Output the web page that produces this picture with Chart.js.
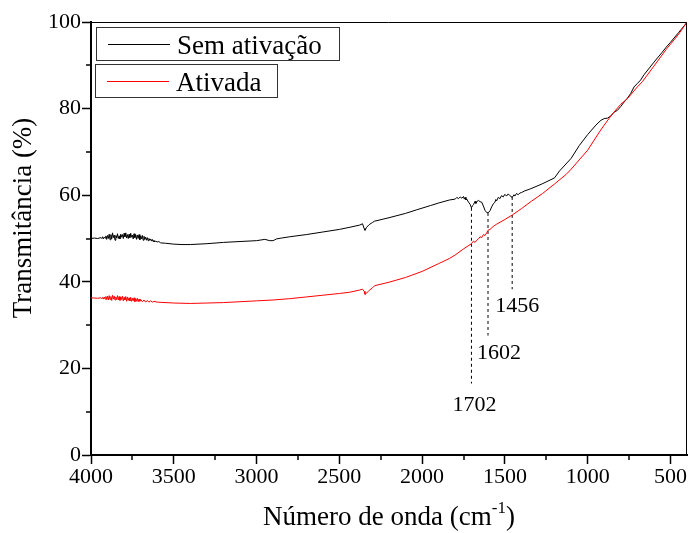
<!DOCTYPE html>
<html>
<head>
<meta charset="utf-8">
<script src="https://cdn.jsdelivr.net/npm/chart.js@4/dist/chart.umd.min.js"></script>
<style>
html,body{margin:0;padding:0;background:#fff;}
#wrap{width:689px;height:533px;position:relative;}
</style>
</head>
<body>
<div id="wrap"><canvas id="c" width="689" height="533"></canvas></div>
<script>
// ---- data ----
const seriesNames = ["Sem ativação", "Ativada"];
const semWn = [4000,3980,3960,3940,3935,3930,3925,3920,3915,3910,3905,3900,3895,3890,3885,3880,3875,3870,3865,3860,3855,3850,3845,3840,3835,3830,3825,3820,3815,3810,3805,3800,3795,3790,3785,3780,3775,3770,3765,3760,3755,3750,3745,3740,3735,3730,3725,3720,3715,3710,3705,3700,3695,3690,3685,3680,3675,3670,3665,3660,3655,3650,3645,3640,3635,3630,3625,3620,3615,3610,3600,3590,3580,3550,3500,3450,3400,3300,3200,3100,3000,2950,2920,2900,2880,2850,2800,2700,2600,2500,2436,2377,2360,2350,2345,2335,2320,2300,2287,2200,2100,2035,1950,1900,1834,1800,1790,1780,1770,1760,1750,1745,1740,1735,1730,1720,1710,1702,1695,1690,1680,1675,1670,1660,1650,1640,1630,1620,1610,1602,1590,1580,1570,1560,1555,1550,1540,1530,1520,1510,1500,1490,1480,1470,1456,1445,1440,1430,1420,1410,1400,1380,1350,1300,1270,1200,1170,1100,1050,1000,950,920,900,880,860,840,820,800,780,760,740,720,700,680,660,600,550,525,500,450,400];
const semT  = [50.0,50.1,50.0,50.2,50.0,50.4,49.9,50.3,50.1,50.6,49.8,50.7,50.0,51.0,49.7,50.9,49.9,51.3,50.2,50.8,49.6,50.7,50.1,51.1,50.0,50.6,49.9,51.0,50.3,50.9,50.0,51.2,50.4,51.3,50.1,50.9,50.0,51.0,50.2,51.2,50.3,50.8,49.9,51.1,50.2,50.9,49.8,50.8,50.0,50.9,49.7,50.6,49.9,50.7,49.6,50.5,49.8,50.3,49.6,50.2,49.5,50.0,49.6,49.9,49.4,49.8,49.3,49.6,49.2,49.4,49.2,49.3,49.0,48.9,48.7,48.6,48.6,48.8,49.1,49.3,49.5,49.8,49.5,49.5,49.9,50.1,50.4,50.9,51.5,52.1,52.6,53.1,53.4,52.3,51.9,52.6,53.2,53.7,54.0,54.8,55.8,56.6,57.6,58.2,58.9,59.1,59.5,59.2,59.6,59.3,59.7,59.1,59.5,58.9,59.1,58.4,57.9,57.1,57.6,57.8,58.6,58.1,58.5,58.8,58.5,58.4,57.5,56.5,56.0,55.9,56.4,57.3,58.0,58.4,59.0,58.7,59.5,59.2,59.9,59.6,60.2,59.8,60.3,59.9,59.5,60.1,59.8,60.4,60.1,60.5,60.6,61.0,61.4,62.2,62.7,64.0,65.6,68.5,71.5,74.0,76.2,77.3,77.7,77.8,78.3,79.2,79.6,80.5,81.5,82.4,83.5,85.0,85.8,86.6,87.8,90.7,93.0,94.2,95.3,97.6,99.9];
const ativWn = [4000,3960,3940,3935,3930,3925,3920,3915,3910,3905,3900,3895,3890,3885,3880,3875,3870,3865,3860,3855,3850,3845,3840,3835,3830,3825,3820,3815,3810,3805,3800,3795,3790,3785,3780,3775,3770,3765,3760,3755,3750,3745,3740,3735,3730,3725,3720,3715,3710,3705,3700,3690,3680,3670,3660,3650,3640,3630,3620,3600,3500,3400,3300,3200,3100,3000,2900,2800,2700,2600,2500,2436,2377,2360,2350,2345,2335,2320,2300,2287,2200,2100,2000,1900,1834,1800,1750,1702,1690,1680,1670,1660,1650,1640,1630,1620,1610,1602,1590,1570,1550,1500,1456,1400,1340,1272,1200,1130,1100,1000,929,900,850,800,760,700,670,600,525,450,400];
const ativT  = [36.3,36.2,36.3,36.1,36.4,36.0,36.5,36.0,36.6,35.9,36.7,35.8,36.8,35.9,36.6,35.7,36.9,36.0,36.7,35.8,36.5,35.9,36.8,35.8,36.6,35.7,36.5,35.9,36.7,35.6,36.4,35.8,36.6,35.5,36.5,35.7,36.3,35.6,36.4,35.5,36.2,35.6,36.3,35.4,36.1,35.5,36.2,35.4,36.0,35.5,35.9,35.4,35.8,35.3,35.7,35.3,35.6,35.3,35.5,35.3,35.1,35.0,35.1,35.2,35.4,35.6,35.8,36.1,36.5,36.9,37.3,37.6,38.1,38.3,37.8,37.1,37.4,38.0,38.6,39.1,39.9,41.0,42.4,44.2,45.4,46.2,47.6,48.8,49.4,49.1,49.6,49.9,50.4,50.2,50.9,50.7,51.3,51.9,52.1,52.8,53.3,54.4,55.4,56.9,58.6,60.4,62.6,64.8,66.0,70.4,74.6,76.2,78.8,81.0,82.3,85.0,86.2,89.8,93.7,97.2,100.0];
const xTickLabels = [4000,3500,3000,2500,2000,1500,1000,500];
const xMinorTicks = [3750,3250,2750,2250,1750,1250,750];
const yTickLabels = [0,20,40,60,80,100];
const yMinorTicks = [10,30,50,70,90];
const peakWn = [1702,1602,1456];
const peakTop = [57.1,55.9,59.6];
const peakBottom = [16.5,27.6,38.3];
const peakLabelWn = [1683,1535,1425];
const peakLabelT = [11.5,23.6,34.3];

const FONT = '"Liberation Serif","Times New Roman",serif';
const toXY = (xs, ys) => xs.map((x, i) => ({x: x, y: ys[i]}));

const datasets = [
  {label: seriesNames[0], data: toXY(semWn, semT), borderColor: '#000', borderWidth: 1, pointRadius: 0, tension: 0, order: 2},
  {label: seriesNames[1], data: toXY(ativWn, ativT), borderColor: '#ff0000', borderWidth: 1, pointRadius: 0, tension: 0, order: 1}
];
peakWn.forEach((w, i) => {
  datasets.push({label: 'peak' + w, data: [{x: w, y: peakTop[i]}, {x: w, y: peakBottom[i]}],
    borderColor: '#000', borderWidth: 1, borderDash: [3, 3], pointRadius: 0, order: 3});
});

const extras = {
  id: 'extras',
  afterDraw(chart) {
    const ctx = chart.ctx, ca = chart.chartArea;
    const xs = chart.scales.x, ys = chart.scales.y;
    ctx.save();
    // frame top & right
    ctx.strokeStyle = '#000'; ctx.lineWidth = 1;
    ctx.beginPath();
    ctx.moveTo(ca.left, ca.top + 0.5); ctx.lineTo(ca.right - 0.5, ca.top + 0.5); ctx.lineTo(ca.right - 0.5, ca.bottom);
    ctx.stroke();
    // minor ticks
    ctx.lineWidth = 1.5;
    xMinorTicks.forEach(v => {
      const px = Math.round(xs.getPixelForValue(v));
      ctx.beginPath(); ctx.moveTo(px, ca.bottom); ctx.lineTo(px, ca.bottom + 5); ctx.stroke();
    });
    yMinorTicks.forEach(v => {
      const py = Math.round(ys.getPixelForValue(v));
      ctx.beginPath(); ctx.moveTo(ca.left, py); ctx.lineTo(ca.left - 5, py); ctx.stroke();
    });
    // peak labels
    ctx.fillStyle = '#000';
    ctx.font = '22px ' + FONT;
    ctx.textAlign = 'center'; ctx.textBaseline = 'middle';
    peakWn.forEach((w, i) => {
      ctx.fillText(String(w), xs.getPixelForValue(peakLabelWn[i]), ys.getPixelForValue(peakLabelT[i]));
    });
    // legend boxes
    ctx.font = '27px ' + FONT;
    ctx.textAlign = 'left'; ctx.textBaseline = 'alphabetic';
    const boxes = [
      {x: 96, y: 27, w: 243, h: 33, color: '#000', text: seriesNames[0]},
      {x: 95, y: 64, w: 182, h: 33, color: '#ff0000', text: seriesNames[1]}
    ];
    boxes.forEach(b => {
      ctx.fillStyle = '#fff';
      ctx.fillRect(b.x, b.y, b.w, b.h);
      ctx.strokeStyle = '#333'; ctx.lineWidth = 1;
      ctx.strokeRect(b.x + 0.5, b.y + 0.5, b.w, b.h);
      ctx.strokeStyle = b.color; ctx.lineWidth = 1;
      ctx.beginPath(); ctx.moveTo(b.x + 12, b.y + 17.5); ctx.lineTo(b.x + 74, b.y + 17.5); ctx.stroke();
      ctx.fillStyle = '#000';
      ctx.fillText(b.text, b.x + 81, b.y + 27);
    });
    // axis titles
    ctx.textAlign = 'left';
    const t1 = 'Número de onda (cm', t2 = '-1', t3 = ')';
    ctx.font = '27px ' + FONT; const w1 = ctx.measureText(t1).width;
    ctx.font = '17px ' + FONT; const w2 = ctx.measureText(t2).width;
    ctx.font = '27px ' + FONT; const w3 = ctx.measureText(t3).width;
    let sx = (ca.left + ca.right) / 2 - (w1 + w2 + w3) / 2;
    const by = 525;
    ctx.fillText(t1, sx, by);
    ctx.font = '17px ' + FONT; ctx.fillText(t2, sx + w1, by - 12);
    ctx.font = '27px ' + FONT; ctx.fillText(t3, sx + w1 + w2, by);
    ctx.save();
    ctx.translate(31, 218);
    ctx.rotate(-Math.PI / 2);
    ctx.textAlign = 'center';
    ctx.fillText('Transmitância (%)', 0, 0);
    ctx.restore();
    ctx.restore();
  }
};

new Chart(document.getElementById('c'), {
  type: 'line',
  data: {datasets: datasets},
  options: {
    responsive: false, animation: false, parsing: true,
    layout: {padding: {top: 22, right: 2, left: 0, bottom: 0}},
    plugins: {legend: {display: false}, tooltip: {enabled: false}, title: {display: false}},
    scales: {
      x: {
        type: 'linear', reverse: true, min: 400, max: 4000,
        afterBuildTicks: s => { s.ticks = xTickLabels.map(v => ({value: v})); },
        afterFit: s => { s.height = 78; },
        grid: {drawOnChartArea: false, tickLength: 9, tickWidth: 1.5, tickColor: '#000'},
        border: {display: true, color: '#000', width: 2},
        ticks: {color: '#000', font: {family: FONT, size: 22}, padding: 0, maxRotation: 0, autoSkip: false,
                callback: v => String(v)}
      },
      y: {
        type: 'linear', min: 0, max: 100,
        afterBuildTicks: s => { s.ticks = yTickLabels.map(v => ({value: v})); },
        afterFit: s => { s.width = 91; },
        grid: {drawOnChartArea: false, tickLength: 9, tickWidth: 1.5, tickColor: '#000'},
        border: {display: true, color: '#000', width: 2},
        ticks: {color: '#000', font: {family: FONT, size: 22}, padding: 1, autoSkip: false,
                callback: v => String(v)}
      }
    }
  },
  plugins: [extras]
});
</script>
</body>
</html>
